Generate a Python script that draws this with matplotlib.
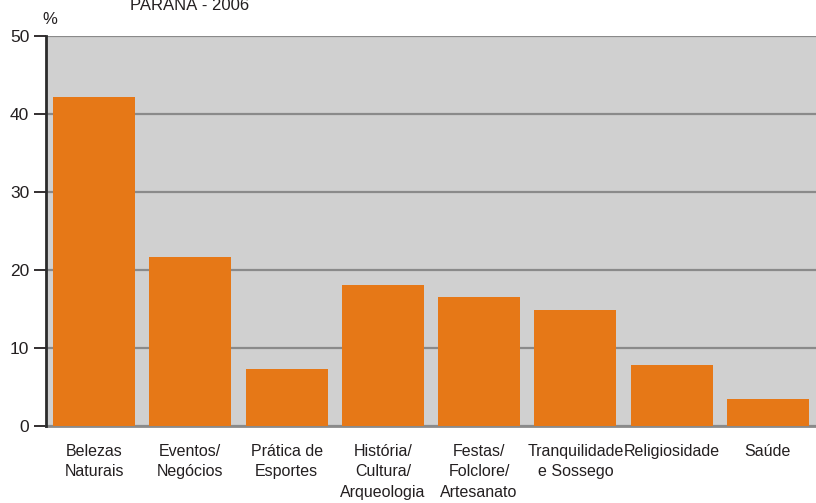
import matplotlib.pyplot as plt
import numpy as np

plt.rcParams["font.family"] = ["Liberation Sans", "DejaVu Sans"]

# motivo da viagem (%)
categories = [
    "Belezas\nNaturais",
    "Eventos/\nNegócios",
    "Prática de\nEsportes",
    "História/\nCultura/\nArqueologia",
    "Festas/\nFolclore/\nArtesanato",
    "Tranquilidade\ne Sossego",
    "Religiosidade",
    "Saúde",
]
values = [42.2, 21.7, 7.3, 18.1, 16.5, 14.9, 7.8, 3.5]
yticks = [0, 10, 20, 30, 40, 50]

fig = plt.figure(figsize=(8.16, 5.03), dpi=100)
ax = fig.add_axes([46 / 816, 1 - 426 / 503, 770 / 816, 390 / 503])
ax.set_facecolor("#d0d0d0")

x = np.arange(len(categories))
ax.bar(x, values, width=0.85, color="#e67817", zorder=3)

ax.set_xlim(-0.5, len(categories) - 0.5)
ax.set_ylim(0, 50)
ax.set_yticks(yticks)
ax.yaxis.grid(True, color="#8a8a8a", linewidth=1.6, zorder=1)

ax.set_xticks(x)
ax.set_xticklabels(categories, fontsize=11.5, linespacing=1.45, color="#231f20")
ax.tick_params(axis="x", length=0, pad=13)
ax.tick_params(axis="y", length=9, width=1.3, color="#231f20", pad=3,
               labelsize=12.5, labelcolor="#231f20")

for side in ["top", "right"]:
    ax.spines[side].set_visible(False)
ax.spines["left"].set_color("#2b2b2b")
ax.spines["left"].set_linewidth(2)
ax.spines["left"].set_zorder(4)
ax.spines["bottom"].set_color("#8a8a8a")
ax.spines["bottom"].set_linewidth(2)

fig.text(42 / 816, 1 - 20 / 503, "%", fontsize=12, color="#231f20", va="center")
fig.text(190 / 816, 1 - 5 / 503, "PARANÁ - 2006", fontsize=12, color="#231f20",
         ha="center", va="center")

fig.savefig("out.png", dpi=100)
